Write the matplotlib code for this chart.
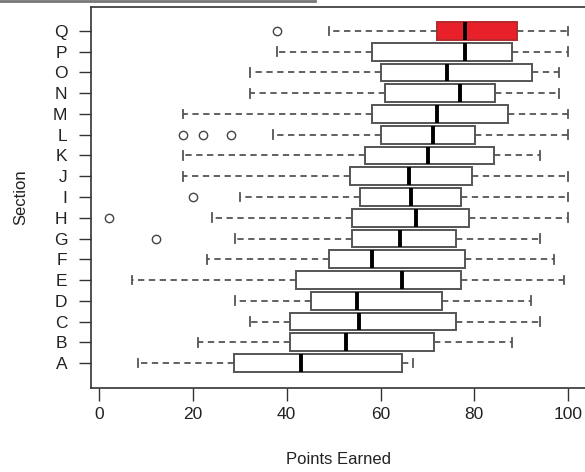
import matplotlib
matplotlib.use("Agg")
import matplotlib.pyplot as plt
from matplotlib.lines import Line2D

plt.rcParams['font.family'] = ['Liberation Sans', 'DejaVu Sans']

sections = list("ABCDEFGHIJKLMNOPQ")
whislo = [8.3, 21.1, 32.2, 29.0, 7.1, 23.0, 29.0, 24.1, 30.1, 17.9, 17.9, 37.1, 17.9, 32.2, 32.2, 38.0, 49.0]
q1     = [28.7, 40.7, 40.7, 45.2, 42.0, 49.0, 54.0, 54.0, 55.6, 53.6, 56.8, 60.0, 58.1, 61.0, 60.0, 58.1, 72.1]
median = [43.1, 52.6, 55.4, 55.0, 64.6, 58.1, 64.1, 67.5, 66.5, 66.1, 70.1, 71.1, 72.1, 77.0, 74.2, 78.1, 78.1]
q3     = [64.6, 71.5, 76.1, 73.0, 77.1, 78.1, 76.1, 78.9, 77.1, 79.5, 84.1, 80.1, 87.1, 84.4, 92.2, 88.1, 89.1]
whishi = [66.9, 88.0, 93.9, 92.0, 99.0, 97.0, 93.9, 100, 100, 100, 93.9, 100, 100, 98.1, 98.1, 100, 100]
fliers = [[], [], [], [], [], [], [12.1], [2.2], [20.1], [], [], [17.9, 22.1, 28.2], [], [], [], [], [38.0]]
highlight = "Q"

W, H = 585, 472
fig = plt.figure(figsize=(W / 100, H / 100), dpi=100)
ax = fig.add_axes([91 / W, 1 - 387.5 / H, (586.5 - 91) / W, (387.5 - 6.5) / H])

stats = []
for i, s in enumerate(sections):
    stats.append(dict(label=s, med=median[i], q1=q1[i], q3=q3[i],
                      whislo=whislo[i], whishi=whishi[i], fliers=fliers[i]))

positions = list(range(1, len(sections) + 1))
bp = ax.bxp(stats, positions=positions, vert=False, widths=0.86, patch_artist=True,
            showfliers=True, capwidths=0.43,
            boxprops=dict(edgecolor='#555555', facecolor='white', linewidth=1.4),
            medianprops=dict(color='black', linewidth=2.8, solid_capstyle='butt'),
            whiskerprops=dict(color='#555555', linewidth=1.3, linestyle=(0, (3.5, 2.5))),
            capprops=dict(color='#555555', linewidth=1.3),
            flierprops=dict(marker='o', markersize=6, markerfacecolor='none',
                            markeredgecolor='#444444', markeredgewidth=1.0))
for patch, s in zip(bp['boxes'], sections):
    if s == highlight:
        patch.set_facecolor('#e8202a')
        patch.set_edgecolor('#b52a2a')

ax.set_xlim(-1.7, 103.9)
ax.set_ylim(-0.18, 18.18)
ax.set_xticks([0, 20, 40, 60, 80, 100])
ax.set_yticks(positions)
ax.set_yticklabels(sections)
ax.tick_params(axis='both', direction='out', length=9, width=1.0, color='#333333',
               labelsize=12.5, labelcolor='#222222')
ax.tick_params(axis='x', pad=5)
ax.tick_params(axis='y', pad=8)
for sp in ax.spines.values():
    sp.set_color('#333333')
    sp.set_linewidth(1.2)

ax.set_xlabel('Points Earned', fontsize=12, color='#222222', labelpad=22)
ax.set_ylabel('Section', fontsize=12, color='#222222', labelpad=18)

fig.add_artist(Line2D([0, 315 / W], [1 - 1 / H, 1 - 1 / H], color='#777777', linewidth=2,
                      transform=fig.transFigure))

fig.savefig('out.png', dpi=100)
